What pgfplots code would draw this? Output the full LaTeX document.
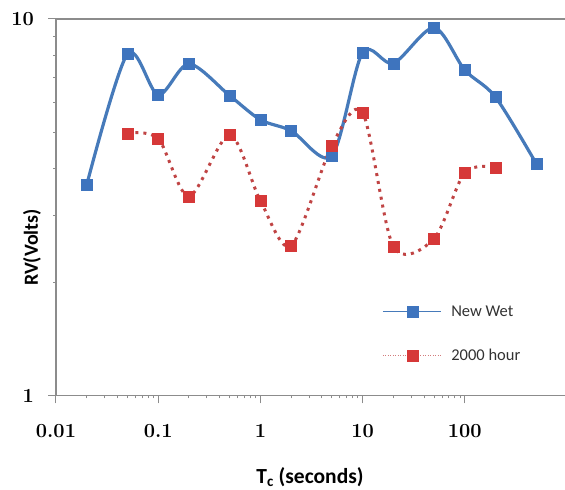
\documentclass[border=0pt]{standalone}
\usepackage{fontspec}
\usepackage{pgfplots}
\pgfplotsset{compat=1.18}
\newfontfamily\calibri{Carlito}
\definecolor{bluel}{RGB}{70,122,186}
\definecolor{bluem}{RGB}{62,116,190}
\definecolor{redl}{RGB}{192,68,68}
\definecolor{redm}{RGB}{214,56,56}
\definecolor{axgray}{RGB}{140,140,140}
\definecolor{txtgray}{RGB}{50,50,50}
\begin{document}
\begin{tikzpicture}
\useasboundingbox (-56pt,-94.5pt) rectangle (509pt,395.5pt);
\begin{axis}[
  at={(0pt,0pt)}, anchor=south west,
  scale only axis, width=511pt, height=376.5pt,
  xmode=log, ymode=log,
  xmin=0.01, xmax=1000, ymin=1, ymax=10,
  xtick={0.01,0.1,1,10,100}, xticklabels={0.01,0.1,1,10,100},
  ytick={1,10}, yticklabels={1,10},
  minor tick num=0, minor xtick={}, minor ytick={},
  xtick pos=left, ytick pos=left,
  tick align=outside, major tick length=8pt,
  tick style={axgray, line width=1pt},
  axis line style={axgray, line width=1.2pt},
  ticklabel style={font=\rmfamily\bfseries\fontsize{20}{20}\selectfont, inner sep=0pt},
  xticklabel style={anchor=base, yshift=-34.5pt},
  yticklabel style={anchor=east, xshift=-14pt},
  xlabel={T\textsubscript{c} (seconds)},
  ylabel={RV(Volts)},
  xlabel style={font=\calibri\bfseries\fontsize{21.5}{22}\selectfont, at={(axis description cs:0.497,-0.2324)}, anchor=base, inner sep=0pt},
  ylabel style={font=\calibri\bfseries\fontsize{20}{20}\selectfont, at={(axis description cs:-0.047,0.393)}, anchor=center, inner sep=0pt},
  legend cell align=left,
  legend style={at={(rel axis cs:0.638,0.164)}, anchor=west, draw=none, fill=none,
    inner sep=0pt, row sep=31.5pt, column sep=10pt,
    font=\calibri\fontsize{16.5}{18}\selectfont, text=txtgray,
    nodes={inner sep=0pt}},
]
\addplot[color=bluel, line width=3.2pt, smooth, mark=square*, mark size=5.5pt,
  mark options={fill=bluem, draw=bluem, line width=0.4pt, solid},
  legend image code/.code={\draw[bluel, line width=1.1pt, solid] (0pt,0pt) -- (58pt,0pt);
    \path[fill=bluem, draw=bluem, solid, line width=0.4pt] (24pt,-5.5pt) rectangle (35pt,5.5pt);}]
coordinates {
(0.02,3.63) (0.05,8.07) (0.1,6.29) (0.2,7.60) (0.5,6.26) (1,5.40) (2,5.05)
(5,4.33) (10,8.14) (20,7.63) (50,9.48) (100,7.32) (200,6.20) (500,4.13)
};
\addlegendentry{New Wet}
\addplot[color=redl, line width=3pt, dash pattern=on 3pt off 5pt, smooth, mark=square*, mark size=5.5pt,
  mark options={fill=redm, draw=redm, line width=0.4pt, solid},
  legend image code/.code={\draw[redl!70, line width=1pt, dash pattern=on 1pt off 1.5pt] (0pt,0pt) -- (58pt,0pt);
    \path[fill=redm, draw=redm, solid, line width=0.4pt] (24pt,-5.5pt) rectangle (35pt,5.5pt);}]
coordinates {
(0.05,4.97) (0.1,4.81) (0.2,3.38) (0.5,4.92) (1,3.29) (2,2.50) (5,4.61)
(10,5.64) (20,2.49) (50,2.61) (100,3.91) (200,4.03)
};
\addlegendentry{2000 hour}
\end{axis}
\end{tikzpicture}
\end{document}
